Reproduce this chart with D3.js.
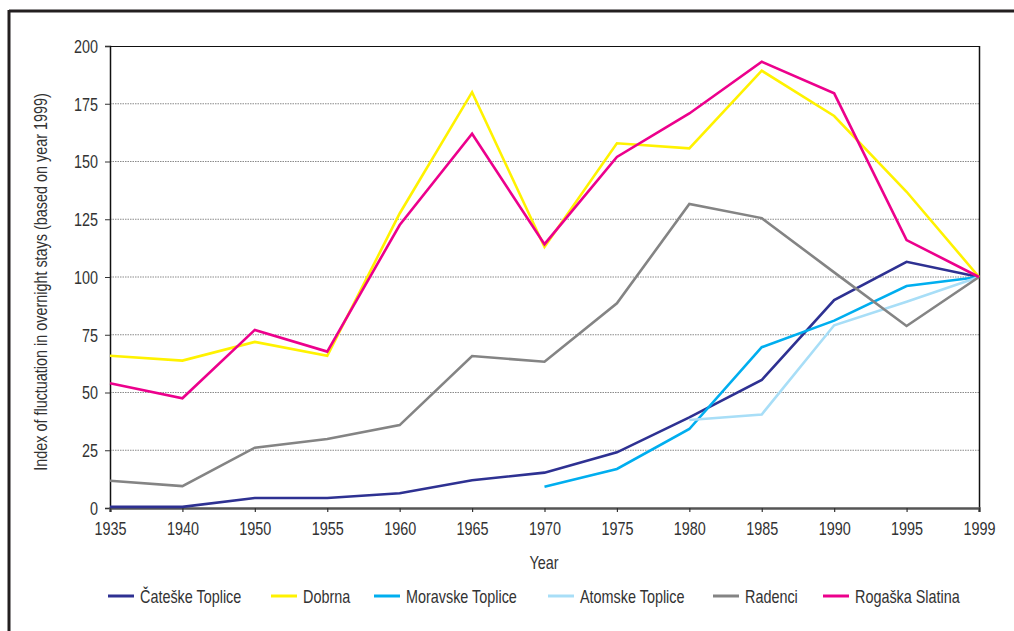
<!DOCTYPE html>
<html><head><meta charset="utf-8">
<script src="https://cdn.jsdelivr.net/npm/d3@7/dist/d3.min.js"></script>
<style>
body{margin:0;background:#fff;}
svg text{font-family:"Liberation Sans",Arial,sans-serif;fill:#333;}
</style></head><body>
<svg id="c" width="1014" height="631"></svg>
<script>
const years = ["1935","1940","1950","1955","1960","1965","1970","1975","1980","1985","1990","1995","1999"];
const cateske  = [0.5,0.5,4.3,4.3,6.4,12,15.3,24.1,39.2,55.4,90,106.6,100];
const dobrna   = [65.9,63.8,71.9,65.9,127.5,180,113,157.9,155.7,189.3,169.7,136.9,100];
const moravske = [null,null,null,null,null,null,9.2,16.9,34.2,69.6,81.1,96.1,100];
const atomske  = [null,null,null,null,null,null,null,null,38.1,40.5,79.1,89.3,100];
const radenci  = [11.8,9.5,26.1,29.9,35.9,65.8,63.3,88.6,131.6,125.5,102,78.8,100];
const rogaska  = [54,47.5,77.1,67.7,122.5,162,114.2,152,170.8,193.2,179.5,116,100];
const yTicks = [0,25,50,75,100,125,150,175,200];
const seriesNames = ["Čateške Toplice","Dobrna","Moravske Toplice","Atomske Toplice","Radenci","Rogaška Slatina"];
const seriesData = [cateske,dobrna,moravske,atomske,radenci,rogaska];
const colors = ["#2e3192","#fff200","#00aeef","#a8def7","#848484","#ec008c"];

const SX = 0.8, FS = "18px";
const svg = d3.select("#c");
const m = {l:110, r:979, t:46, b:508};
const x = d3.scalePoint().domain(years).range([m.l, m.r]);
const y = d3.scaleLinear().domain([0,200]).range([m.b, m.t]);

// condensed text helper: draws text at (px,py) squeezed horizontally
function ctext(sel, px, py, anchor, str){
  return sel.append("text").attr("transform",`translate(${px},${py}) scale(${SX},1)`)
    .attr("text-anchor",anchor).style("font-size",FS).text(str);
}

// outer frame
svg.append("line").attr("x1",9).attr("x2",1014).attr("y1",11).attr("y2",11).attr("stroke","#231f20").attr("stroke-width",3);
svg.append("line").attr("x1",9).attr("x2",9).attr("y1",10).attr("y2",631).attr("stroke","#231f20").attr("stroke-width",3);

// gridlines
svg.append("g").selectAll("line").data(yTicks.filter(d=>d>0&&d<200)).join("line")
  .attr("x1",m.l).attr("x2",m.r).attr("y1",d=>y(d)).attr("y2",d=>y(d))
  .attr("stroke","#8a8a8a").attr("stroke-width",1).attr("stroke-dasharray","1.5,1");

// plot frame top/right
svg.append("line").attr("x1",m.l).attr("x2",m.r).attr("y1",m.t+0.5).attr("y2",m.t+0.5).attr("stroke","#111").attr("stroke-width",1.2);
svg.append("line").attr("x1",m.r+0.5).attr("x2",m.r+0.5).attr("y1",m.t).attr("y2",m.b).attr("stroke","#111").attr("stroke-width",1.5);

// y axis
const ya = svg.append("g").attr("transform",`translate(${m.l},0)`)
  .call(d3.axisLeft(y).tickValues(yTicks).tickSize(5).tickPadding(7));
ya.select(".domain").attr("stroke","#111").attr("stroke-width",1.5);
ya.selectAll(".tick line").attr("stroke","#333");
ya.selectAll("text").style("font-size",FS).attr("fill","#333")
  .attr("x",null).attr("dy","0.35em").attr("transform",`translate(-12,0) scale(${SX},1)`);

// x axis
const xa = svg.append("g").attr("transform",`translate(0,${m.b})`)
  .call(d3.axisBottom(x).tickSize(4).tickPadding(4));
xa.select(".domain").attr("stroke","#555").attr("stroke-width",2.5);
xa.selectAll(".tick line").attr("stroke","#333").attr("stroke-width",1.2);
xa.selectAll("text").style("font-size",FS).attr("fill","#333")
  .attr("y",null).attr("dy",null).attr("transform",`translate(0,27) scale(${SX},1)`);

// lines
const line = d3.line().defined(d=>d.v!=null).x(d=>x(d.y)).y(d=>y(d.v));
seriesData.forEach((s,i)=>{
  svg.append("path").datum(s.map((v,j)=>({y:years[j],v})))
    .attr("d",line).attr("fill","none").attr("stroke",colors[i]).attr("stroke-width",2.6)
    .attr("stroke-linejoin","miter");
});

// titles
ctext(svg, 544, 569, "middle", "Year");
svg.append("text").attr("transform",`translate(47,282) rotate(-90) scale(${SX},1)`).attr("text-anchor","middle").style("font-size",FS)
  .text("Index of fluctuation in overnight stays (based on year 1999)");

// legend
const legX = [108,271,374,548,713,823];
const lg = svg.append("g").selectAll("g").data(seriesNames).join("g").attr("transform",(d,i)=>`translate(${legX[i]},596)`);
lg.append("line").attr("x1",0).attr("x2",26).attr("y1",0).attr("y2",0).attr("stroke",(d,i)=>colors[i]).attr("stroke-width",3);
lg.each(function(d){ ctext(d3.select(this), 32, 7, "start", d); });
</script></body></html>
